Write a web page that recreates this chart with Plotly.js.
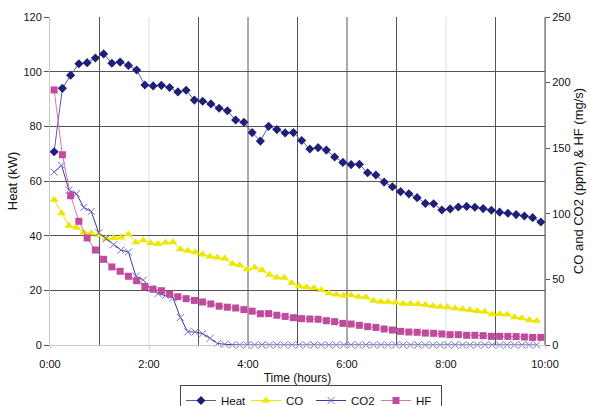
<!DOCTYPE html>
<html><head><meta charset="utf-8">
<script src="https://cdn.plot.ly/plotly-3.0.1.min.js"></script>
<style>html,body{margin:0;padding:0;background:#fff}#chart{width:590px;height:406px}</style>
</head><body><div id="chart"></div>
<script>
// time in minutes from start
const heatTimes = [5,15,25,35,45,55,65,75,85,95,105,115,125,135,145,155,165,175,185,195,205,215,225,235,245,255,265,275,285,295,305,315,325,335,345,355,365,375,385,395,405,415,425,435,445,455,465,475,485,495,505,515,525,535,545,555,565,575,585,595];
const heat = [70.7,93.9,98.7,102.9,103.3,105.0,106.5,103.1,103.5,102.3,100.6,95.1,94.8,95.0,94.2,92.6,93.2,89.6,89.2,88.2,86.6,85.7,82.3,81.5,77.7,74.6,80.0,78.8,77.6,77.7,74.8,71.7,72.2,71.3,68.8,66.8,66.0,66.1,63.0,62.2,59.6,57.9,56.1,55.3,53.9,51.8,51.7,49.4,49.8,50.5,50.7,50.4,49.9,49.3,48.6,48.2,47.7,47.2,46.6,45.0];
const hf = [194.4,145.0,113.8,94.3,81.6,72.4,65.3,59.5,56.2,52.4,49.0,44.6,42.5,41.4,38.8,36.8,35.3,34.0,32.8,31.3,29.6,28.8,28.2,27.0,25.8,23.8,23.9,22.7,21.8,20.8,20.1,19.8,19.6,18.5,17.8,16.5,16.0,15.0,14.0,13.4,12.2,11.4,10.4,9.9,9.7,9.1,8.9,8.4,7.9,7.9,7.4,7.4,7.1,6.6,6.6,6.6,6.4,6.1,5.8,5.8];
const gasTimes = [5,14,23,32,41,50,59,68,77,86,95,104,113,122,131,140,149,158,167,176,185,194,203,212,221,230,239,248,257,266,275,284,293,302,311,320,329,338,347,356,365,374,383,392,401,410,419,428,437,446,455,464,473,482,491,500,509,518,527,536,545,554,563,572,581,590];
const co = [110.8,100.4,90.9,89.5,85.8,85.1,84.0,81.0,81.5,82.0,84.4,78.3,79.9,77.8,77.0,78.2,78.3,73.0,71.9,70.7,69.0,67.5,66.6,65.9,62.0,60.8,57.7,59.1,56.9,53.5,51.4,51.2,47.2,44.8,44.0,43.4,42.0,39.4,38.4,37.6,38.1,36.8,36.3,33.8,33.0,33.0,32.3,31.5,31.5,31.2,30.6,29.8,29.2,28.7,28.0,27.3,26.6,26.0,25.4,23.4,23.7,23.2,21.2,20.3,19.0,18.4];
const co2 = [131.8,137.0,118.0,115.3,104.8,101.8,85.5,81.0,76.5,72.4,70.9,52.6,49.5,43.0,39.2,37.8,36.0,21.0,10.0,10.0,8.6,5.1,1.2,0.5,0,0,0,0,0,0,0,0,0,0,0,0,0,0,0,0,0,0,0,0,0,0,0,0,0,0,0,0,0,0,0,0,0,0,0,0,0,0,0,0,0,0];

const xTickVals = [0,120,240,360,480,600];
const xTickText = ["0:00","2:00","4:00","6:00","8:00","10:00"];
const darkGridVals = [60,180,240,300,360,420,540,600];
const lightGridVals = [120,480];
const yLeftTicks = [0,20,40,60,80,100,120];
const yRightTicks = [0,50,100,150,200,250];

const gridShape = (v, color) => ({type:'line', xref:'x', yref:'paper', x0:v, x1:v, y0:0, y1:1,
  layer:'below', line:{color:color, width:1}});
const shapes = darkGridVals.map(v => gridShape(v, '#555')).concat(lightGridVals.map(v => gridShape(v, '#dcdcdc')));

const traces = [
  {name:'Heat', x:heatTimes, y:heat, xaxis:'x', yaxis:'y', mode:'lines+markers', cliponaxis:false,
   marker:{symbol:'diamond', size:7, color:'#1f1f78'}, line:{color:'#5a5aa8', width:1}},
  {name:'CO', x:gasTimes, y:co, xaxis:'x', yaxis:'y2', mode:'lines+markers', cliponaxis:false,
   marker:{symbol:'triangle-up', size:8, color:'#f0e600'}, line:{color:'#ece400', width:1}},
  {name:'CO2', x:gasTimes, y:co2, xaxis:'x', yaxis:'y2', mode:'lines+markers', cliponaxis:false,
   marker:{symbol:'x-thin-open', size:7, color:'#6f6fcc', line:{color:'#6f6fcc', width:1}}, line:{color:'#3a3aa0', width:1}},
  {name:'HF', x:heatTimes, y:hf, xaxis:'x', yaxis:'y2', mode:'lines+markers', cliponaxis:false,
   marker:{symbol:'square', size:7, color:'#c04a9c'}, line:{color:'#d478b8', width:1}}
];

const layout = {
  width:590, height:406,
  margin:{l:50, r:45, t:17, b:61, autoexpand:false},
  paper_bgcolor:'#fff', plot_bgcolor:'#fff',
  font:{family:'Liberation Sans, Arial, sans-serif', size:11, color:'#111'},
  showlegend:true,
  shapes:shapes,
  xaxis:{range:[0,600], tickvals:xTickVals, ticktext:xTickText, showgrid:false, zeroline:false,
    showline:true, linecolor:'#c8c8c8', linewidth:1, ticks:'outside', ticklen:3, tickcolor:'#c8c8c8',
    ticklabelstandoff:6, title:{text:'Time (hours)', font:{size:12}, standoff:4}},
  yaxis:{range:[0,120], tickvals:yLeftTicks, showgrid:true, gridcolor:'#555', gridwidth:1, zeroline:false,
    showline:true, linecolor:'#c8c8c8', ticks:'outside', ticklen:5, tickcolor:'#555',
    title:{text:'Heat (kW)', font:{size:13}, standoff:2}},
  yaxis2:{overlaying:'y', side:'right', anchor:'x', range:[0,250], tickvals:yRightTicks, showgrid:false, zeroline:false,
    showline:true, linecolor:'#888', ticks:'outside', ticklen:4, tickcolor:'#555',
    title:{text:'CO and CO2 (ppm) &amp; HF (mg/s)', font:{size:13}, standoff:4}},
  legend:{orientation:'h', x:0.2626, xanchor:'left', y:-0.122, yanchor:'top',
    bordercolor:'#444', borderwidth:1, bgcolor:'#fff', font:{size:11.5}, entrywidth:20, entrywidthmode:'pixels'}
};

Plotly.newPlot('chart', traces, layout, {displayModeBar:false, staticPlot:true});
</script></body></html>
